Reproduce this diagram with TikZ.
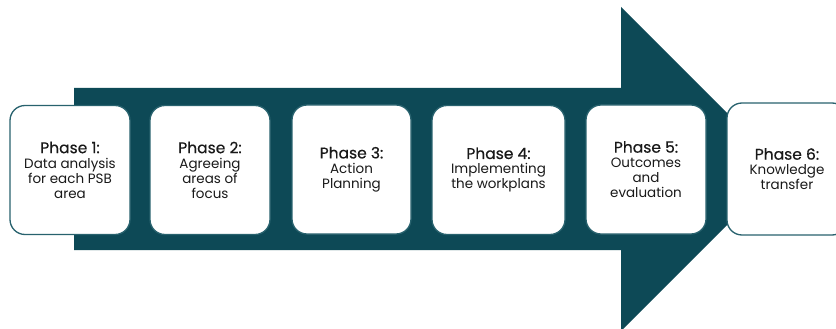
\documentclass[tikz,border=0pt]{standalone}
\usepackage{fontspec}
\setmainfont{Poppins}
\newfontfamily\headfont{Poppins}[FakeBold=0.4]
\usepackage{tikz}
\usetikzlibrary{positioning}
\definecolor{petrol}{RGB}{13,73,86}
\definecolor{petrolline}{RGB}{40,98,110}
\newcommand{\phasehead}[1]{{\headfont\fontsize{15.5}{17}\selectfont Phase #1:}}
\tikzset{
    phasebox/.style={rectangle, rounded corners=15pt, fill=white, draw=petrolline,
        line width=1.3pt, align=center, minimum height=129pt,
        font=\fontsize{13.5}{15}\selectfont, text=black!90},
    bigarrow/.style={fill=petrol, draw=none},
}
\begin{document}
\begin{tikzpicture}[x=1pt, y=-1pt]
	\useasboundingbox (0,0) rectangle (836,329);
	\clip (0,0) rectangle (836,329);
	\fill[white] (0,0) rectangle (836,329);
	\path[bigarrow] (74,88)--(621,88)--(621,7)--(783,169)--(621,331)--(621,250)--(74,250)--cycle;
	\node[phasebox, minimum width=120pt] (p1) at (70,170) {\phasehead{1}\\Data analysis\\for each PSB\\area};
	\node[phasebox, minimum width=120pt] (p2) at (210,170) {\phasehead{2}\\Agreeing\\areas of\\focus};
	\node[phasebox, minimum width=119pt] (p3) at (351.5,169.5) {\phasehead{3}\\Action\\Planning};
	\node[phasebox, minimum width=133pt] (p4) at (498.5,170) {\phasehead{4}\\Implementing\\the workplans};
	\node[phasebox, minimum width=120pt] (p5) at (646,169.5) {\phasehead{5}\\Outcomes\\and\\evaluation};
	\node[phasebox, minimum width=120pt, minimum height=132pt] (p6) at (787,169) {\phasehead{6}\\Knowledge\\transfer};
\end{tikzpicture}
\end{document}
